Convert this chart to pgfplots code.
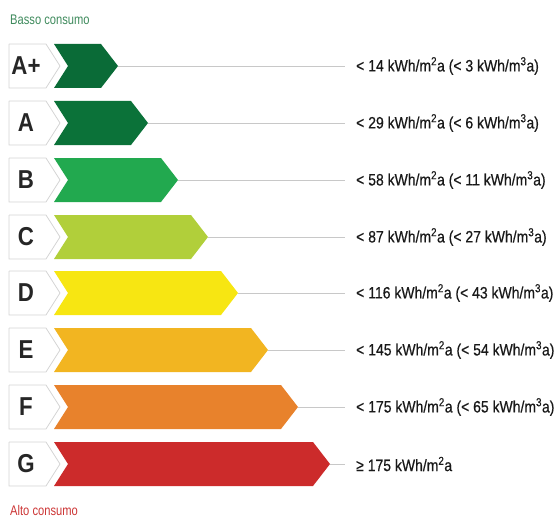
\documentclass[border=0pt]{standalone}
\usepackage{pgfplots}
\pgfplotsset{compat=1.18}
\usepackage{fontspec}
\setmainfont{Liberation Sans}
\newfontfamily\narrow[FakeStretch=0.80]{Liberation Sans}
\newfontfamily\narrowtext[FakeStretch=0.85, FakeBold=0.5]{Liberation Sans}
\newfontfamily\narrowbold[FakeStretch=0.86]{Liberation Sans Bold}

\definecolor{cAp}{HTML}{0A6B37}
\definecolor{cA}{HTML}{0B7239}
\definecolor{cB}{HTML}{22A94F}
\definecolor{cC}{HTML}{B1CF3A}
\definecolor{cD}{HTML}{F7E612}
\definecolor{cE}{HTML}{F2B521}
\definecolor{cF}{HTML}{E8822C}
\definecolor{cG}{HTML}{CC2B2B}
\definecolor{basso}{HTML}{3E8A5C}
\definecolor{alto}{HTML}{CC3535}
\definecolor{rule}{HTML}{C8C8C8}
\definecolor{boxline}{HTML}{D4D4D4}

% one chevron per class: y = row centre, tip = x of the arrow point
\newcommand{\energyrow}[4]{%
  % label box
  \addplot[fill=white, draw=boxline, line width=0.8pt] coordinates
    {(9,#1-22) (46,#1-22) (60,#1) (46,#1+22) (9,#1+22) (9,#1-22)};
  % gray rule from tip to text
  \addplot[draw=rule, line width=1pt] coordinates {(#2,#1) (345,#1)};
  % coloured bar
  \addplot[fill=#3, draw=none] coordinates
    {(54,#1-22) (#2-17,#1-22) (#2,#1) (#2-17,#1+22) (54,#1+22) (68,#1) (54,#1-22)};
  \node[font=\narrowbold\fontsize{26}{26}\selectfont, text=black!85] at (axis cs:26,#1) {#4};
}

\begin{document}
\begin{tikzpicture}
\begin{axis}[
  scale only axis,
  width=559bp, height=522bp,
  xmin=0, xmax=559, ymin=0, ymax=522,
  y dir=reverse,
  hide axis, clip=false,
]
\addplot[draw=none] coordinates {(0,0) (559,522)};

\energyrow{66}{118}{cAp}{A+}
\energyrow{123}{148}{cA}{A}
\energyrow{180}{178}{cB}{B}
\energyrow{237}{208}{cC}{C}
\energyrow{293}{238}{cD}{D}
\energyrow{350}{268}{cE}{E}
\energyrow{407}{298}{cF}{F}
\energyrow{464}{330}{cG}{G}

\begin{scope}[every node/.style={anchor=west, inner sep=0pt, font=\narrowtext\fontsize{16.5}{16.5}\selectfont, text=black!90}]
\node at (axis cs:356,66)  {< 14 kWh/m\textsuperscript{2}a (< 3 kWh/m\textsuperscript{3}a)};
\node at (axis cs:356,123) {< 29 kWh/m\textsuperscript{2}a (< 6 kWh/m\textsuperscript{3}a)};
\node at (axis cs:356,180) {< 58 kWh/m\textsuperscript{2}a (< 11 kWh/m\textsuperscript{3}a)};
\node at (axis cs:356,237) {< 87 kWh/m\textsuperscript{2}a (< 27 kWh/m\textsuperscript{3}a)};
\node at (axis cs:356,293) {< 116 kWh/m\textsuperscript{2}a (< 43 kWh/m\textsuperscript{3}a)};
\node at (axis cs:356,350) {< 145 kWh/m\textsuperscript{2}a (< 54 kWh/m\textsuperscript{3}a)};
\node at (axis cs:356,407) {< 175 kWh/m\textsuperscript{2}a (< 65 kWh/m\textsuperscript{3}a)};
\node at (axis cs:356,464) {≥ 175 kWh/m\textsuperscript{2}a};
\end{scope}

\node[anchor=west, inner sep=0pt, font=\narrow\fontsize{14}{14}\selectfont, text=basso] at (axis cs:10,20) {Basso consumo};
\node[anchor=west, inner sep=0pt, font=\narrow\fontsize{14}{14}\selectfont, text=alto] at (axis cs:10,511) {Alto consumo};
\end{axis}
\end{tikzpicture}
\end{document}
